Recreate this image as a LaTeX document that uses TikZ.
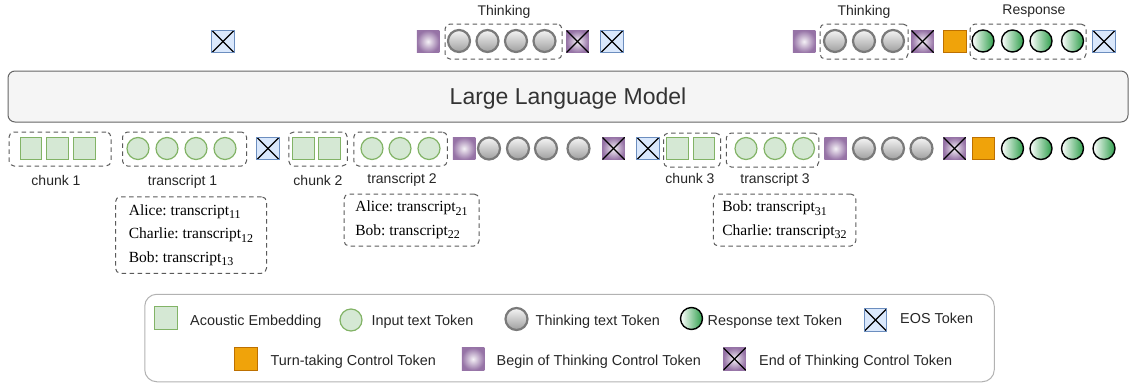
\documentclass[tikz,border=0pt]{standalone}
\usepackage{fontspec}
\setmainfont{Liberation Serif}
\setsansfont{Liberation Sans}
\definecolor{embfill}{HTML}{D5E8D4}
\definecolor{embline}{HTML}{82B366}
\definecolor{eosfill}{HTML}{DAE8FC}
\definecolor{eosline}{HTML}{6C8EBF}
\definecolor{bandline}{HTML}{5A5A5A}
\definecolor{turnfill}{HTML}{F0A30A}
\definecolor{turnline}{HTML}{BD7000}
\definecolor{thinkfill}{HTML}{9673A6}
\definecolor{respfill}{HTML}{2E9E4B}
\newcommand{\subno}[1]{\raisebox{-3.5pt}[0pt][0pt]{\fontsize{12}{12}\selectfont #1}}
\tikzset{
 tok/.style={inner sep=0pt,outer sep=0pt},
 sqtok/.style={tok,rectangle,minimum width=22.5pt,minimum height=22.5pt},
 crossed/.style={path picture={
  \draw[black,line width=1.2pt](path picture bounding box.north west)--(path picture bounding box.south east);
  \draw[black,line width=1.2pt](path picture bounding box.north east)--(path picture bounding box.south west);}},
 emb/.style={sqtok,minimum width=21.5pt,draw=embline,line width=1.3pt,fill=embfill},
 inp/.style={tok,circle,minimum size=22pt,draw=embline,line width=1.2pt,fill=embfill},
 thk/.style={tok,circle,minimum size=22pt,draw=black!52,line width=2.2pt,top color=black!4,bottom color=black!38},
 rsp/.style={tok,circle,minimum size=22pt,draw=black,line width=1.4pt,left color=white,right color=respfill},
 eos/.style={sqtok,draw=eosline,line width=1.2pt,fill=eosfill,crossed},
 turn/.style={sqtok,draw=turnline,line width=1.2pt,fill=turnfill},
 bot/.style={sqtok,inner color=white!90!thinkfill,outer color=thinkfill},
 eot/.style={sqtok,inner color=white!90!thinkfill,outer color=thinkfill,crossed},
 band/.style={rectangle,rounded corners=5pt,draw=bandline,dashed,line width=1pt,dash pattern=on 4.5pt off 3.5pt},
 lab/.style={inner sep=0pt,text depth=0pt,font=\sffamily\fontsize{14}{16}\selectfont,text=black!85},
 leg/.style={inner sep=0pt,text depth=0pt,anchor=west,font=\sffamily\fontsize{14.4}{16}\selectfont,text=black!85},
 said/.style={band,align=left,inner sep=0pt,font=\frenchspacing\fontsize{15.5}{23.5}\selectfont}
}
\begin{document}
\begin{tikzpicture}[x=1pt,y=-1pt]
 \useasboundingbox (0,0) rectangle (1129,383);
 % model
 \node[rectangle,rounded corners=7pt,draw=black!60,line width=1pt,fill=black!4,minimum width=1120pt,minimum height=51pt,text depth=0pt,
  font=\sffamily\fontsize{23}{26}\selectfont,text=black!80] (llm) at (568,96.5) {Large Language Model};
 % top row
 \node[band,minimum width=117pt,minimum height=35pt] (topthink1) at (503.5,41.5) {};
 \node[band,minimum width=88pt,minimum height=35pt] (topthink2) at (864,41.5) {};
 \node[band,minimum width=116pt,minimum height=35pt] (topresp) at (1028,41.5) {};
 \node[lab] (lthink1) at (504,10) {Thinking};
 \node[lab] (lthink2) at (864,10) {Thinking};
 \node[lab] (lresp) at (1034,10) {Response};
 \node[eos] (t1) at (223,41.5) {};
 \node[bot] (t2) at (428,41.5) {};
 \node[thk] (t3) at (459,41) {};
 \node[thk] (t4) at (487.5,41) {};
 \node[thk] (t5) at (516,41) {};
 \node[thk] (t6) at (544.5,41) {};
 \node[eot] (t7) at (577.5,41.5) {};
 \node[eos] (t8) at (612,41.5) {};
 \node[bot] (t9) at (804,41.5) {};
 \node[thk] (t10) at (835,41) {};
 \node[thk] (t11) at (864,41) {};
 \node[thk] (t12) at (893,41) {};
 \node[eot] (t13) at (922.5,41.5) {};
 \node[turn] (t14) at (955,41.5) {};
 \node[rsp] (t15) at (983,41) {};
 \node[rsp] (t16) at (1012.5,41) {};
 \node[rsp] (t17) at (1041,41) {};
 \node[rsp] (t18) at (1072.5,41) {};
 \node[eos] (t19) at (1104,41.5) {};
 % bottom row
 \node[band,minimum width=102pt,minimum height=34pt] (gchunk1) at (60,149) {};
 \node[band,minimum width=124pt,minimum height=34pt] (gtrans1) at (184.5,149) {};
 \node[band,minimum width=58.5pt,minimum height=34pt] (gchunk2) at (318,149) {};
 \node[band,minimum width=93.5pt,minimum height=34pt] (gtrans2) at (400.5,149) {};
 \node[band,minimum width=57pt,minimum height=34pt] (gchunk3) at (692,150) {};
 \node[band,minimum width=92.5pt,minimum height=34pt] (gtrans3) at (772.5,150) {};
 \node[emb] (e1) at (31,148.5) {};
 \node[emb] (e2) at (57.5,148.5) {};
 \node[emb] (e3) at (84.5,148.5) {};
 \node[inp] (i1) at (138,148.5) {};
 \node[inp] (i2) at (167,148.5) {};
 \node[inp] (i3) at (196,148.5) {};
 \node[inp] (i4) at (225,148.5) {};
 \node[eos] (b1) at (268,148.5) {};
 \node[emb] (e4) at (303.5,148.5) {};
 \node[emb] (e5) at (329.5,148.5) {};
 \node[inp] (i5) at (372,148.5) {};
 \node[inp] (i6) at (400,148.5) {};
 \node[inp] (i7) at (429,148.5) {};
 \node[bot] (b2) at (464,148.5) {};
 \node[thk] (b3) at (489,148.5) {};
 \node[thk] (b4) at (518,148.5) {};
 \node[thk] (b5) at (546,148.5) {};
 \node[thk] (b6) at (578.5,148.5) {};
 \node[eot] (b7) at (613.5,148.5) {};
 \node[eos] (b8) at (648,148.5) {};
 \node[emb] (e6) at (677.5,148.5) {};
 \node[emb] (e7) at (704,148.5) {};
 \node[inp] (i8) at (746,148.5) {};
 \node[inp] (i9) at (775,148.5) {};
 \node[inp] (i10) at (803.5,148.5) {};
 \node[bot] (b9) at (835.5,148.5) {};
 \node[thk] (b10) at (864,148.5) {};
 \node[thk] (b11) at (893,148.5) {};
 \node[thk] (b12) at (921.5,148.5) {};
 \node[eot] (b13) at (954.5,148.5) {};
 \node[turn] (b14) at (983.5,148.5) {};
 \node[rsp] (b15) at (1012.5,148.5) {};
 \node[rsp] (b16) at (1041,148.5) {};
 \node[rsp] (b17) at (1072.5,148.5) {};
 \node[rsp] (b18) at (1104,148.5) {};
 % labels under the row
 \node[lab] (lchunk1) at (56,180.5) {chunk 1};
 \node[lab] (ltrans1) at (182.5,180.5) {transcript 1};
 \node[lab] (lchunk2) at (318,180.5) {chunk 2};
 \node[lab] (ltrans2) at (402,178.5) {transcript 2};
 \node[lab] (lchunk3) at (690,178.5) {chunk 3};
 \node[lab] (ltrans3) at (775,178.5) {transcript 3};
 % who said what
 \node[said,minimum width=151pt,minimum height=76.5pt] (said1) at (191,235)
  {Alice: transcript\subno{11}\\Charlie: transcript\subno{12}\\Bob: transcript\subno{13}};
 \node[said,minimum width=135pt,minimum height=52pt] (said2) at (411.5,220)
  {Alice: transcript\subno{21}\\Bob: transcript\subno{22}};
 \node[said,minimum width=142.5pt,minimum height=52pt] (said3) at (784.5,220)
  {Bob: transcript\subno{31}\\Charlie: transcript\subno{32}};
 % legend
 \node[rectangle,rounded corners=12pt,draw=black!30,line width=1pt,minimum width=849.5pt,minimum height=87.5pt] (legendbox) at (569.5,338) {};
 \node[emb,minimum width=22.5pt] (k1) at (166,318) {};
 \node[leg] (ktext1) at (190,320) {Acoustic Embedding};
 \node[inp] (k2) at (351,320) {};
 \node[leg] (ktext2) at (371.5,320) {Input text Token};
 \node[thk] (k3) at (516.5,319) {};
 \node[leg] (ktext3) at (535.5,320) {Thinking text Token};
 \node[rsp] (k4) at (691.5,318.5) {};
 \node[leg] (ktext4) at (707.5,320) {Response text Token};
 \node[eos] (k5) at (875.5,320) {};
 \node[leg] (ktext5) at (900,318) {EOS Token};
 \node[turn] (k6) at (246,359) {};
 \node[leg] (ktext6) at (270.5,360.5) {Turn-taking Control Token};
 \node[bot] (k7) at (473,359) {};
 \node[leg] (ktext7) at (496.5,360.5) {Begin of Thinking Control Token};
 \node[eot] (k8) at (734.5,359) {};
 \node[leg] (ktext8) at (759,360.5) {End of Thinking Control Token};
\end{tikzpicture}
\end{document}
